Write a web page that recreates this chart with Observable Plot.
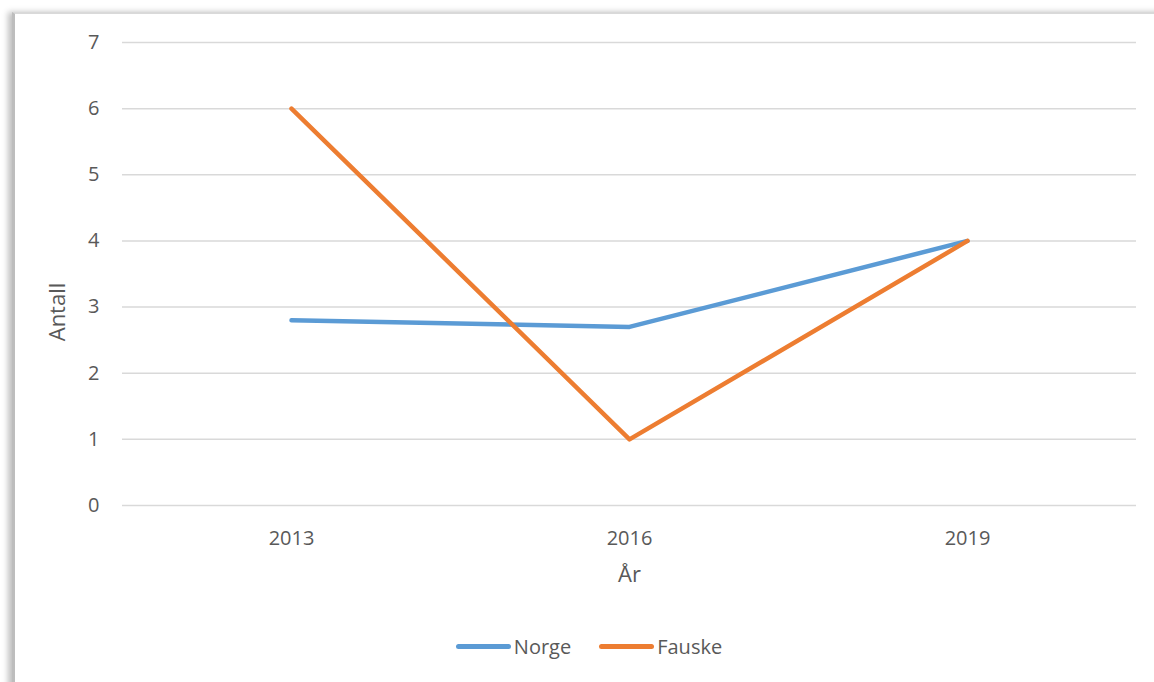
<!DOCTYPE html>
<html>
<head>
<meta charset="utf-8">
<script src="https://cdn.jsdelivr.net/npm/d3@7"></script>
<script src="https://cdn.jsdelivr.net/npm/@observablehq/plot@0.6"></script>
<style>
  html, body { margin: 0; padding: 0; background: #fff; }
  #wrap { position: relative; width: 1154px; height: 682px; overflow: hidden; font-family: "Open Sans", "Liberation Sans", sans-serif; color: #595959; }
  #frame { position: absolute; left: 12px; top: 12px; width: 1160px; height: 700px; border-top: 2px solid #d9d9d9; border-left: 3px solid #bdbdbd; box-shadow: -4px 0 6px rgba(0,0,0,0.25); background: #fff; }
  #chart { position: absolute; left: 0; top: 0; }
  #legend { position: absolute; top: 633px; left: 0; width: 1154px; display: flex; justify-content: center; gap: 28px; font-size: 20px; color: #595959; padding-left: 24px; box-sizing: border-box; }
  .item { display: flex; align-items: center; }
  .sw { width: 55px; height: 5px; border-radius: 3px; margin-right: 3px; }
</style>
</head>
<body>
<div id="wrap">
  <div id="frame"></div>
  <div id="chart"></div>
  <div id="legend"></div>
</div>
<script>
const years = ["2013", "2016", "2019"];
const norge = [2.8, 2.7, 4];
const fauske = [6, 1, 4];
const seriesNames = ["Norge", "Fauske"];
const colors = ["#5B9BD5", "#ED7D31"];
const yTicks = [0, 1, 2, 3, 4, 5, 6, 7];

const data = [];
years.forEach((y, i) => {
  data.push({year: y, value: norge[i], series: "Norge"});
  data.push({year: y, value: fauske[i], series: "Fauske"});
});

const chart = Plot.plot({
  width: 1154,
  height: 600,
  marginLeft: 122,
  marginRight: 18,
  marginTop: 42,
  marginBottom: 95,
  style: {fontFamily: "'Open Sans', 'Liberation Sans', sans-serif", fontSize: "20px", color: "#595959", background: "transparent"},
  x: {type: "point", domain: years, padding: 0.5},
  y: {domain: [0, 7]},
  color: {domain: seriesNames, range: colors},
  marks: [
    Plot.ruleY(yTicks, {stroke: "#d9d9d9", strokeWidth: 1.5}),
    Plot.axisY(yTicks, {tickSize: 0, tickPadding: 23, label: null, tickFormat: "d", fontSize: 20, fill: "#595959"}),
    Plot.axisX({tickSize: 0, tickPadding: 25, label: null, fontSize: 20, fill: "#595959"}),
    Plot.text(["Antall"], {frameAnchor: "left", textAnchor: "middle", dx: -65, dy: 38, rotate: -90, fontSize: 22, fill: "#595959"}),
    Plot.text(["År"], {frameAnchor: "bottom", dy: 76, fontSize: 22, fill: "#595959"}),
    Plot.line(data, {x: "year", y: "value", z: "series", stroke: "series", strokeWidth: 4.5, strokeLinecap: "round", strokeLinejoin: "round"})
  ]
});
document.getElementById("chart").appendChild(chart);

const legend = document.getElementById("legend");
seriesNames.forEach((n, i) => {
  const it = document.createElement("div");
  it.className = "item";
  it.innerHTML = `<div class="sw" style="background:${colors[i]}"></div><span>${n}</span>`;
  legend.appendChild(it);
});
</script>
</body>
</html>
